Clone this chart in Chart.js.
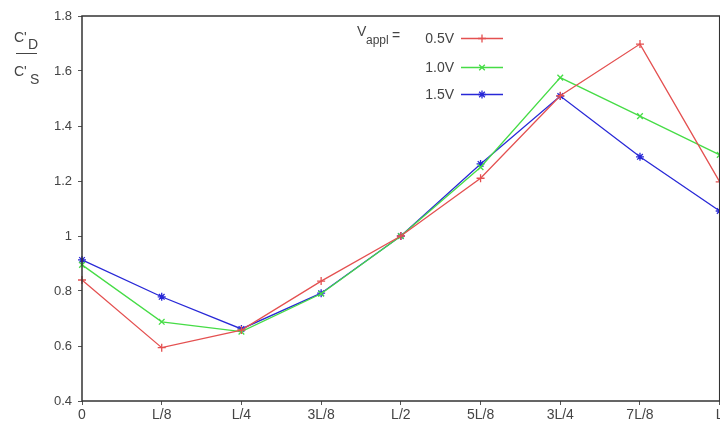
<!DOCTYPE html>
<html>
<head>
<meta charset="utf-8">
<script src="https://cdn.jsdelivr.net/npm/chart.js@4"></script>
<style>
html,body{margin:0;padding:0;background:#fff;overflow:hidden;}
#wrap{width:720px;height:426px;position:relative;overflow:hidden;}
</style>
</head>
<body>
<div id="wrap"><canvas id="c" width="725" height="426"></canvas></div>
<script>
const categories = ["0", "L/8", "L/4", "3L/8", "L/2", "5L/8", "3L/4", "7L/8", "L"];
const seriesLabels = ["0.5V", "1.0V", "1.5V"];
const v05 = [0.84, 0.594, 0.658, 0.836, 1.0, 1.21, 1.51, 1.698, 1.197];
const v10 = [0.895, 0.688, 0.652, 0.79, 1.0, 1.25, 1.576, 1.436, 1.295];
const v15 = [0.913, 0.779, 0.662, 0.792, 1.0, 1.262, 1.509, 1.288, 1.091];
const yTicks = [0.4, 0.6, 0.8, 1, 1.2, 1.4, 1.6, 1.8];

const FONT = "'Liberation Sans Narrow','Liberation Sans',sans-serif";
const colors = ["rgb(228,80,80)", "rgb(70,220,70)", "rgb(40,40,215)"];
const styles = ["cross", "crossRot", "star"];

const overlay = {
  id: "overlay",
  afterDraw(chart) {
    const ctx = chart.ctx;
    const a = chart.chartArea;
    ctx.save();
    ctx.strokeStyle = "#333";
    ctx.lineWidth = 1.5;
    ctx.strokeRect(a.left, a.top, a.right - a.left, a.bottom - a.top);
    // y-axis title fraction
    ctx.fillStyle = "#444";
    ctx.font = "14px " + FONT;
    ctx.textBaseline = "alphabetic";
    ctx.fillText("C'", 14, 42);
    ctx.fillText("D", 28, 49);
    ctx.fillText("C'", 14, 76);
    ctx.fillText("S", 30, 84);
    ctx.strokeStyle = "#444";
    ctx.lineWidth = 1;
    ctx.beginPath(); ctx.moveTo(16, 53.5); ctx.lineTo(37, 53.5); ctx.stroke();
    // legend
    ctx.font = "14px " + FONT;
    ctx.fillText("V", 357, 36);
    ctx.font = "12px " + FONT;
    ctx.fillText("appl", 366, 44);
    ctx.font = "14px " + FONT;
    ctx.fillText("=", 392, 40);
    const rows = [43, 72, 99];
    chart.data.datasets.forEach((ds, i) => {
      ctx.fillStyle = "#444";
      ctx.textAlign = "right";
      ctx.fillText(seriesLabels[i], 454, rows[i]);
      ctx.textAlign = "left";
      const y = rows[i] - 4.5;
      ctx.strokeStyle = colors[i];
      ctx.lineWidth = 1.3;
      ctx.beginPath(); ctx.moveTo(461, y); ctx.lineTo(503, y); ctx.stroke();
      Chart.helpers.drawPoint(ctx, {pointStyle: styles[i], radius: 4, borderWidth: 1.3, rotation: 0}, 482, y);
    });
    ctx.restore();
  }
};

const mk = (label, data, i) => ({
  label, data,
  borderColor: colors[i],
  backgroundColor: colors[i],
  borderWidth: 1.3,
  pointStyle: styles[i],
  pointRadius: 4,
  pointBorderWidth: 1.3,
  tension: 0,
  clip: false
});

new Chart(document.getElementById("c"), {
  type: "line",
  data: {
    labels: categories,
    datasets: [mk(seriesLabels[0], v05, 0), mk(seriesLabels[1], v10, 1), mk(seriesLabels[2], v15, 2)]
  },
  options: {
    responsive: false,
    animation: false,
    events: [],
    layout: { padding: { left: 0, right: 1, top: 16, bottom: 0 } },
    plugins: { legend: { display: false }, tooltip: { enabled: false } },
    scales: {
      x: {
        type: "category",
        offset: false,
        grid: { drawOnChartArea: false, drawTicks: true, tickLength: 4, color: "#555" },
        border: { display: false },
        ticks: { color: "#444", font: { family: FONT, size: 14 }, padding: 2, maxRotation: 0, autoSkip: false },
        afterFit(s) { s.height = 25; s.paddingLeft = 0; s.paddingRight = 0; }
      },
      y: {
        min: 0.4, max: 1.8,
        afterBuildTicks(s) { s.ticks = yTicks.map(v => ({ value: v })); },
        grid: { drawOnChartArea: false, drawTicks: true, tickLength: 4, color: "#555" },
        border: { display: false },
        ticks: { color: "#444", font: { family: FONT, size: 13 }, padding: 6,
          callback: v => String(v) },
        afterFit(s) { s.width = 82; s.paddingTop = 0; s.paddingBottom = 0; }
      }
    }
  },
  plugins: [overlay]
});
</script>
</body>
</html>
